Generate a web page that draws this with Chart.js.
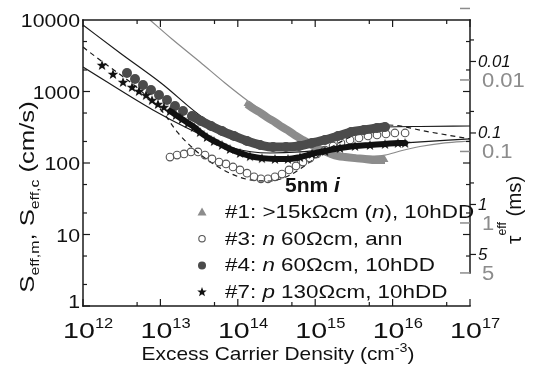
<!DOCTYPE html>
<html>
<head>
<meta charset="utf-8">
<script src="https://cdn.jsdelivr.net/npm/chart.js@4/dist/chart.umd.min.js"></script>
<style>
  html, body { margin: 0; padding: 0; background: #fff; }
  #wrap { width: 537px; height: 366px; }
</style>
</head>
<body>
<div id="wrap"><canvas id="chart"></canvas></div>
<script>
// axis ticks
const xTickValues = [1e12, 1e13, 1e14, 1e15, 1e16, 1e17];
const xTickExponents = ['12', '13', '14', '15', '16', '17'];
const yTickValues = [1, 10, 100, 1000, 10000];
const yTickLabels = ['1', '10', '100', '1000', '10000'];
const tauGrayTicks = [0.001, 0.01, 0.1, 1, 5];
const tauGrayLabels = ['', '0.01', '0.1', '1', '5'];
const tauBlackTicks = [0.01, 0.1, 1, 5];
const tauBlackLabels = ['0.01', '0.1', '1', '5'];
const tauBlackMinor = [0.005, 0.05, 0.5];
// S (cm/s) = factor / tau (ms)
const tauGrayFactor = 14.5;
const tauBlackFactor = 26.3;

// #1 >15kOhmcm (n), 10hDD  (triangles)
const s1Density = [1.315e14, 1.62e14, 1.99e14, 2.455e14, 3.02e14, 3.72e14, 4.59e14, 5.65e14, 6.95e14, 8.57e14, 1.055e15, 1.30e15, 1.60e15, 1.97e15, 2.43e15, 3.27e15, 4.40e15, 5.92e15, 7.98e15];
const s1Rate = [668, 569, 500, 426, 374, 319, 280, 239, 210, 185, 162, 147, 134, 125, 121, 117, 114, 110, 110];

// #3 n 60Ohmcm, ann  (open circles)
const s3Density = [1.33e13, 1.64e13, 2.02e13, 2.48e13, 3.06e13, 3.77e13, 4.64e13, 5.72e13, 7.04e13, 8.67e13, 1.067e14, 1.315e14, 1.62e14, 1.99e14, 2.455e14, 3.02e14, 3.72e14, 4.59e14, 5.65e14, 6.95e14, 8.57e14, 1.055e15, 1.34e15, 1.70e15, 2.15e15, 2.82e15, 3.68e15, 4.81e15, 6.29e15, 8.21e15, 1.07e16, 1.45e16];
const s3Rate = [121, 129, 134, 143, 143, 129, 114, 103, 97, 88, 80, 72, 64, 60, 60, 64, 70, 80, 91, 103, 117, 134, 152, 173, 191, 210, 224, 239, 247, 255, 263, 263];

// #4 n 60Ohmcm, 10hDD  (filled circles)
const s4Density = [3.70e12, 4.70e12, 5.96e12, 7.56e12, 9.59e12, 1.217e13, 1.544e13, 1.96e13, 2.56e13, 3.35e13, 4.51e13, 6.25e13, 8.93e13, 1.315e14, 1.94e14, 2.85e14, 4.19e14, 6.18e14, 9.09e14, 1.34e15, 1.97e15, 2.90e15, 4.27e15, 6.29e15, 7.98e15];
const s4Rate = [1815, 1496, 1233, 1050, 893, 760, 627, 533, 454, 386, 329, 280, 239, 203, 179, 167, 167, 173, 191, 210, 239, 271, 290, 309, 319];

// #7 p 130Ohmcm, 10hDD  (stars)
const s7Density = [1.76e12, 2.44e12, 3.29e12, 4.30e12, 5.29e12, 6.52e12, 7.79e12, 9.31e12, 1.11e13, 1.33e13, 1.59e13, 1.90e13, 2.27e13, 2.72e13, 3.25e13, 4.0e13, 4.93e13, 6.25e13, 7.93e13, 1.07e14, 1.44e14, 2.05e14, 3.02e14, 4.45e14, 6.36e14, 9.09e14, 1.34e15, 2.09e15, 3.27e15, 5.10e15, 7.98e15, 1.17e16, 1.45e16];
const s7Rate = [2350, 1760, 1360, 1156, 1016, 893, 760, 668, 607, 533, 469, 412, 362, 319, 271, 231, 203, 179, 157, 138, 125, 117, 114, 114, 121, 134, 147, 162, 173, 179, 185, 191, 191];

// fitted curves
const fit1Density = [7.34e12, 1.41e13, 3.25e13, 6.83e13, 1.355e14, 2.61e14, 4.73e14, 8.57e14, 1.55e15, 2.82e15, 5.10e15, 7.98e15, 1.25e16, 2.26e16, 4.75e16, 1e17];
const fit1Rate = [10000, 5420, 2585, 1315, 737, 454, 299, 203, 152, 129, 125, 129, 147, 170, 191, 203];
const fit3Density = [1e12, 1.018e13, 1.69e13, 2.80e13, 4.64e13, 7.93e13, 1.44e14, 2.61e14, 4.73e14, 8.57e14, 1.55e15, 3.27e15, 8.47e15, 3.04e16, 1e17];
const fit3Rate = [4193, 551, 263, 152, 100, 72, 58, 56, 68, 103, 162, 247, 340, 271, 217];
const fit4Density = [1e12, 3.01e12, 1.018e13, 3.77e13, 1.067e14, 2.61e14, 6.36e14, 1.55e15, 3.79e15, 7.98e15, 2.26e16, 1e17];
const fit4Rate = [8510, 3455, 1315, 412, 239, 185, 191, 231, 280, 319, 324, 329];
const fit7Density = [1e12, 8.02e12, 2.21e13, 8.67e13, 2.61e14, 6.36e14, 2.09e15, 1.45e16, 1e17];
const fit7Rate = [2200, 551, 309, 162, 138, 143, 162, 191, 217];

const legendTitle = '5nm ';
const legendRows = [
  [['#1: >15k\u03A9cm (', false], ['n', true], ['), 10hDD', false]],
  [['#3: ', false], ['n', true], [' 60\u03A9cm, ann', false]],
  [['#4: ', false], ['n', true], [' 60\u03A9cm, 10hDD', false]],
  [['#7: ', false], ['p', true], [' 130\u03A9cm, 10hDD', false]]
];

const FONT = '"Liberation Sans", Arial, sans-serif';
const toPoints = (xs, ys) => xs.map((x, i) => ({ x: x, y: ys[i] }));

function starPath(ctx, cx, cy, R, r) {
  ctx.beginPath();
  for (let i = 0; i < 10; i++) {
    const a = -Math.PI / 2 + i * Math.PI / 5;
    const rad = i % 2 ? r : R;
    ctx.lineTo(cx + rad * Math.cos(a), cy + rad * Math.sin(a));
  }
  ctx.closePath();
}

const starImg = document.createElement('canvas');
starImg.width = 12;
starImg.height = 12;
(function () {
  const c = starImg.getContext('2d');
  c.fillStyle = '#111';
  starPath(c, 6, 6.5, 5.6, 2.3);
  c.fill();
})();

function runsWidth(ctx, runs, sx) {
  let w = 0;
  runs.forEach(r => { ctx.font = r.font; w += ctx.measureText(r.t).width * sx; });
  return w;
}

function drawRuns(ctx, runs, x, y, sx, color) {
  let cx = x;
  ctx.fillStyle = color;
  ctx.textAlign = 'left';
  ctx.textBaseline = 'alphabetic';
  runs.forEach(r => {
    ctx.font = r.font;
    ctx.save();
    ctx.translate(cx, y + (r.dy || 0));
    ctx.scale(sx, 1);
    ctx.fillText(r.t, 0, 0);
    ctx.restore();
    cx += ctx.measureText(r.t).width * sx;
  });
}

function line(ctx, x1, y1, x2, y2) {
  ctx.beginPath();
  ctx.moveTo(x1, y1);
  ctx.lineTo(x2, y2);
  ctx.stroke();
}

const axesPlugin = {
  id: 'axesPlugin',
  afterDraw(chart) {
    const ctx = chart.ctx;
    const xs = chart.scales.x;
    const ys = chart.scales.y;
    const L = xs.left, R = xs.right, T = ys.top, B = ys.bottom;
    const rightEnd = ys.getPixelForValue(tauGrayFactor / 5);

    ctx.save();
    ctx.strokeStyle = '#1a1a1a';
    ctx.lineWidth = 1.5;
    ctx.lineCap = 'square';
    line(ctx, L, T, L, B);
    line(ctx, L, B, R, B);
    line(ctx, L, T, R, T);
    line(ctx, R, T, R, rightEnd);

    // y ticks (mirrored on right)
    ctx.lineCap = 'butt';
    ctx.lineWidth = 1.2;
    for (let d = 0; d < 4; d++) {
      [1, 2, 5].forEach(m => {
        const v = m * Math.pow(10, d);
        const py = ys.getPixelForValue(v);
        const len = m === 1 ? 7 : 4;
        line(ctx, L, py, L + len, py);
        if (py <= rightEnd && py > T + 1) line(ctx, R, py, R - len, py);
      });
    }
    // x ticks (mirrored on top)
    for (let d = 12; d <= 17; d++) {
      [1, 5].forEach(m => {
        const v = m * Math.pow(10, d);
        if (v > 1e17) return;
        const px = xs.getPixelForValue(v);
        const len = m === 1 ? 7 : 4;
        line(ctx, px, B, px, B - len);
        line(ctx, px, T, px, T + len);
      });
    }

    // y tick labels
    yTickValues.forEach((v, i) => {
      const py = ys.getPixelForValue(v) + (v === 1 ? 2 : 7);
      const runs = [{ t: yTickLabels[i], font: '19px ' + FONT }];
      const w = runsWidth(ctx, runs, 1.12);
      drawRuns(ctx, runs, 80 - w, py, 1.12, '#111');
    });

    // x tick labels with superscript exponent
    xTickValues.forEach((v, i) => {
      const px = xs.getPixelForValue(v);
      const base = [{ t: '10', font: '22px ' + FONT }];
      const bw = runsWidth(ctx, base, 1.3);
      const x0 = px - 4 - bw / 2;
      drawRuns(ctx, base, x0, 338, 1.3, '#111');
      drawRuns(ctx, [{ t: xTickExponents[i], font: '15px ' + FONT }], x0 + bw, 328, 1.1, '#111');
    });

    // x title
    const xt = [
      { t: 'Excess Carrier Density (cm', font: '19px ' + FONT },
      { t: '-3', font: '13px ' + FONT, dy: -8 },
      { t: ')', font: '19px ' + FONT }
    ];
    const xtw = runsWidth(ctx, xt, 1.1);
    drawRuns(ctx, xt, 278 - xtw / 2, 360, 1.1, '#111');

    // y title (rotated)
    const yt = [
      { t: 'S', font: '21px ' + FONT },
      { t: 'eff,m', font: '13px ' + FONT, dy: 5 },
      { t: ', S', font: '21px ' + FONT },
      { t: 'eff,c', font: '13px ' + FONT, dy: 5 },
      { t: ' (cm/s)', font: '21px ' + FONT }
    ];
    const ytw = runsWidth(ctx, yt, 1.22);
    ctx.save();
    ctx.translate(34, 197);
    ctx.rotate(-Math.PI / 2);
    drawRuns(ctx, yt, -ytw / 2, 0, 1.22, '#111');
    ctx.restore();

    // right axis: tau, gray scale
    ctx.strokeStyle = '#8c8c8c';
    ctx.lineWidth = 1.5;
    tauGrayTicks.forEach((t, i) => {
      const py = ys.getPixelForValue(tauGrayFactor / t);
      line(ctx, R - 10, py, R, py);
      if (tauGrayLabels[i]) {
        drawRuns(ctx, [{ t: tauGrayLabels[i], font: '20px ' + FONT }], 482, py + 7, 1.1, '#8c8c8c');
      }
    });
    // right axis: tau, black scale
    ctx.strokeStyle = '#1a1a1a';
    ctx.lineWidth = 1.2;
    tauBlackTicks.forEach((t, i) => {
      const py = ys.getPixelForValue(tauBlackFactor / t);
      line(ctx, R, py, R + 6, py);
      drawRuns(ctx, [{ t: tauBlackLabels[i], font: 'italic 16px ' + FONT }], 478, py + 5.5, 1.05, '#111');
    });
    tauBlackMinor.forEach(t => {
      const py = ys.getPixelForValue(tauBlackFactor / t);
      line(ctx, R, py, R + 4, py);
    });

    // right title (rotated)
    const rt = [
      { t: '\u03C4', font: '21px ' + FONT },
      { t: 'eff', font: '12px ' + FONT, dy: -15 },
      { t: ' (ms)', font: '20px ' + FONT }
    ];
    ctx.save();
    ctx.translate(521, 244);
    ctx.rotate(-Math.PI / 2);
    drawRuns(ctx, rt, 0, 0, 1.02, '#111');
    ctx.restore();

    // legend
    drawRuns(ctx, [
      { t: legendTitle, font: 'bold 20px ' + FONT },
      { t: 'i', font: 'italic bold 20px ' + FONT }
    ], 285, 192, 1.05, '#111');

    legendRows.forEach((row, i) => {
      const by = 218 + i * 26.7;
      const runs = row.map(p => ({ t: p[0], font: (p[1] ? 'italic ' : '') + '19px ' + FONT }));
      drawRuns(ctx, runs, 225, by, 1.18, '#111');
      const my = by - 6;
      const mx = 202;
      if (i === 0) {
        ctx.fillStyle = '#8c8c8c';
        ctx.beginPath();
        ctx.moveTo(mx, my - 4.5);
        ctx.lineTo(mx + 4.5, my + 3.5);
        ctx.lineTo(mx - 4.5, my + 3.5);
        ctx.closePath();
        ctx.fill();
      } else if (i === 1) {
        ctx.strokeStyle = '#555';
        ctx.lineWidth = 1.1;
        ctx.beginPath();
        ctx.arc(mx, my, 3.2, 0, Math.PI * 2);
        ctx.stroke();
      } else if (i === 2) {
        ctx.fillStyle = '#4b4b4b';
        ctx.beginPath();
        ctx.arc(mx, my, 4, 0, Math.PI * 2);
        ctx.fill();
      } else {
        ctx.fillStyle = '#111';
        starPath(ctx, mx, my, 5, 2.1);
        ctx.fill();
      }
    });
    ctx.restore();
  }
};

const fitStyle = (color, dash) => ({
  showLine: true,
  pointRadius: 0,
  borderColor: color,
  borderWidth: 1.2,
  borderDash: dash || [],
  cubicInterpolationMode: 'monotone',
  fill: false
});

new Chart(document.getElementById('chart'), {
  type: 'scatter',
  data: {
    datasets: [
      {
        label: '#7',
        data: toPoints(s7Density, s7Rate),
        order: 0,
        showLine: true,
        borderColor: '#111',
        borderWidth: 6,
        borderCapStyle: 'round',
        cubicInterpolationMode: 'monotone',
        segment: { borderColor: c => c.p0DataIndex < 9 ? 'rgba(0,0,0,0)' : '#111' },
        pointStyle: starImg,
        pointRadius: 5,
        pointBorderWidth: 0
      },
      {
        label: '#4',
        data: toPoints(s4Density, s4Rate),
        order: 1,
        showLine: true,
        borderColor: '#4b4b4b',
        borderWidth: 9,
        borderCapStyle: 'round',
        cubicInterpolationMode: 'monotone',
        segment: { borderColor: c => c.p0DataIndex < 8 ? 'rgba(0,0,0,0)' : '#4b4b4b' },
        pointStyle: 'circle',
        pointRadius: 5,
        pointBorderWidth: 0,
        pointBackgroundColor: '#4b4b4b',
        pointBorderColor: '#4b4b4b'
      },
      {
        label: '#3',
        data: toPoints(s3Density, s3Rate),
        order: 2,
        showLine: false,
        pointStyle: 'circle',
        pointRadius: 3.8,
        pointBorderWidth: 1.1,
        pointBorderColor: '#555',
        pointBackgroundColor: 'rgba(255,255,255,0)'
      },
      {
        label: '#1',
        data: toPoints(s1Density, s1Rate),
        order: 3,
        showLine: true,
        borderColor: '#8c8c8c',
        borderWidth: 8,
        cubicInterpolationMode: 'monotone',
        pointStyle: 'triangle',
        pointRadius: 4,
        pointBorderWidth: 0,
        pointBackgroundColor: '#8c8c8c',
        pointBorderColor: '#8c8c8c'
      },
      Object.assign({ label: 'fit #1', data: toPoints(fit1Density, fit1Rate), order: 10 }, fitStyle('#8a8a8a')),
      Object.assign({ label: 'fit #3', data: toPoints(fit3Density, fit3Rate), order: 11 }, fitStyle('#1a1a1a', [5, 4])),
      Object.assign({ label: 'fit #4', data: toPoints(fit4Density, fit4Rate), order: 12 }, fitStyle('#1a1a1a')),
      Object.assign({ label: 'fit #7', data: toPoints(fit7Density, fit7Rate), order: 13 }, fitStyle('#1a1a1a'))
    ]
  },
  options: {
    responsive: true,
    maintainAspectRatio: false,
    animation: false,
    layout: { padding: { left: 83, right: 67, top: 20, bottom: 60 } },
    plugins: {
      legend: { display: false },
      tooltip: { enabled: false }
    },
    scales: {
      x: { type: 'logarithmic', min: 1e12, max: 1e17, display: false },
      y: { type: 'logarithmic', min: 1, max: 10000, display: false }
    }
  },
  plugins: [axesPlugin]
});
</script>
</body>
</html>
